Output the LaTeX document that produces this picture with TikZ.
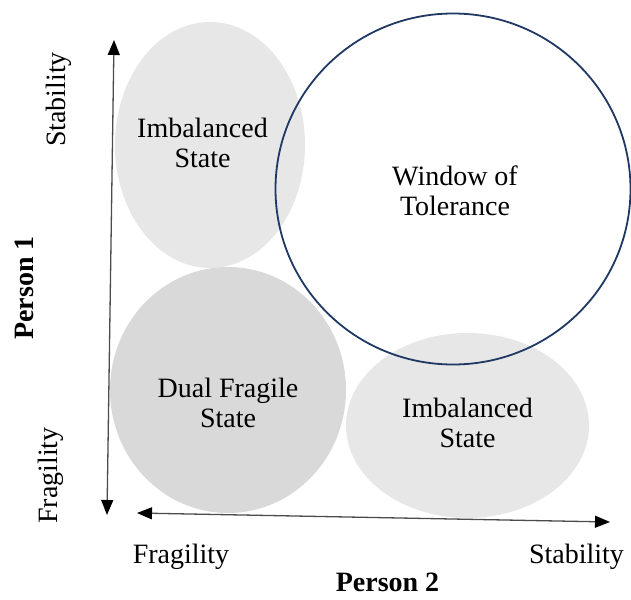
\documentclass[tikz,border=0pt]{standalone}
\usepackage{fontspec}
\setmainfont{Liberation Serif}
\usetikzlibrary{shapes.geometric,arrows.meta}
\definecolor{lightfill}{HTML}{E7E7E7}
\definecolor{darkfill}{HTML}{D9D9D9}
\definecolor{navyline}{HTML}{1F3864}
\begin{document}
\begin{tikzpicture}[x=1pt,y=-1pt,
  blob/.style={ellipse, inner sep=0pt, outer sep=0pt, draw=none},
  lbl/.style={font=\fontsize{28}{30}\selectfont, align=center, inner sep=0pt},
  axlbl/.style={font=\fontsize{28}{30}\selectfont, inner sep=0pt, anchor=base},
  axbold/.style={font=\fontsize{28}{30}\selectfont\bfseries, inner sep=0pt, anchor=base},
  axisline/.style={black!70, line width=1.3pt,
    {Triangle[length=15pt,width=12pt,color=black]}-{Triangle[length=15pt,width=12pt,color=black]}}
]
\useasboundingbox (0,0) rectangle (631,599);
% shapes
\node[blob, fill=lightfill, minimum width=190pt, minimum height=246pt] (tl) at (210,145) {};
\node[blob, fill=darkfill, minimum width=236pt, minimum height=246pt] (dual) at (228,390) {};
\node[blob, fill=lightfill, minimum width=243pt, minimum height=185pt] (br) at (467.5,425.5) {};
\node[ellipse, draw=navyline, line width=1.8pt, inner sep=0pt, minimum width=355pt, minimum height=351pt] (wot) at (453,189) {};
% texts
\node[lbl] (tltext) at (202.5,142.5) {Imbalanced\\State};
\node[lbl] (wottext) at (455,191) {Window of\\Tolerance};
\node[lbl] (dualtext) at (228,402.5) {Dual Fragile\\State};
\node[lbl] (brtext) at (467.5,422.5) {Imbalanced\\State};
% axes
\coordinate (vtop) at (114,40);
\coordinate (vbot) at (107,515);
\coordinate (hleft) at (137,513);
\coordinate (hright) at (610,522);
\draw[axisline] (vbot) -- (vtop);
\draw[axisline] (hleft) -- (hright);
% axis labels
\node[axlbl, rotate=90] (ystab) at (65,99.5) {Stability};
\node[axlbl, rotate=90] (yfrag) at (57,475.5) {Fragility};
\node[axbold, rotate=90] (yperson) at (33,288) {Person 1};
\node[axlbl] (xfrag) at (181,563) {Fragility};
\node[axlbl] (xstab) at (576.5,563) {Stability};
\node[axbold] (xperson) at (387.5,591) {Person 2};
\end{tikzpicture}
\end{document}
